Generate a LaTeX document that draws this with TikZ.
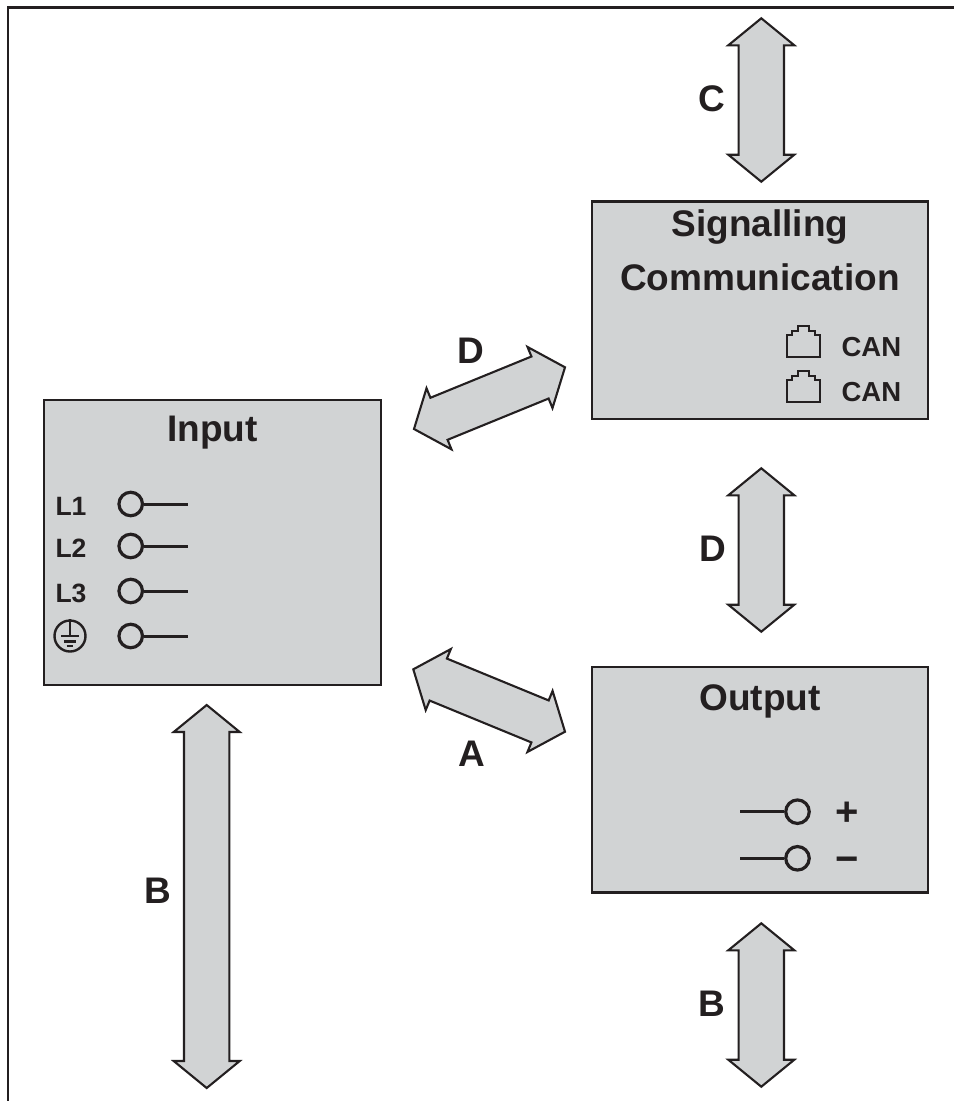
\documentclass[tikz,border=0pt]{standalone}
\usepackage{fontspec}
\setmainfont{Liberation Sans}
\usetikzlibrary{calc}
\definecolor{ink}{RGB}{35,31,32}
\definecolor{panel}{RGB}{209,211,212}

% double block arrow between two named points
\newcommand\twoway[2]{%
  \coordinate (h1) at ($(#1)!27pt!(#2)$);
  \coordinate (h2) at ($(#2)!27pt!(#1)$);
  \draw[twoway] (#1) -- ($(h1)!33pt!90:(#1)$) -- ($(h1)!22.7pt!90:(#1)$)
    -- ($(h2)!22.7pt!-90:(#2)$) -- ($(h2)!33pt!-90:(#2)$) -- (#2)
    -- ($(h2)!33pt!90:(#2)$) -- ($(h2)!22.7pt!90:(#2)$)
    -- ($(h1)!22.7pt!-90:(#1)$) -- ($(h1)!33pt!-90:(#1)$) -- cycle;}

\begin{document}
\begin{tikzpicture}[
    x=1pt,y=-1pt,
    block/.style={
        draw=ink,
        fill=panel,
        line width=2.3pt,
        inner sep=0pt
    },
    title/.style={
        text=ink,
        anchor=base,
        font=\bfseries\fontsize{37}{44}\selectfont
    },
    tag/.style={title},
    pinname/.style={
        text=ink,
        anchor=base west,
        font=\bfseries\fontsize{26.5}{30}\selectfont
    },
    canname/.style={pinname,font=\bfseries\fontsize{27.5}{30}\selectfont},
    sign/.style={text=ink,anchor=base,font=\bfseries\fontsize{40}{44}\selectfont},
    port/.style={
        circle,
        draw=ink,
        line width=3.2pt,
        minimum size=23.5pt,
        inner sep=0pt
    },
    lead/.style={draw=ink,line width=3pt},
    twoway/.style={draw=ink,fill=panel,line width=2.1pt,line join=miter},
    jack/.style={draw=ink,line width=2pt}
    ]
  \useasboundingbox (0,0) rectangle (954,1101);

  % frame
  \draw[ink,line width=2.8pt] (8,1101) -- (8,7.5) -- (954,7.5);

  % blocks
  \node[block,minimum width=337,minimum height=285] (inp) at (212.5,542.5) {};
  \node[block,minimum width=336,minimum height=217.5] (sig) at (760,310.3) {};
  \node[block,minimum width=336,minimum height=225.5] (out) at (760,779.8) {};

  \node[title] (inpt) at (212.5,441.7) {Input};
  \node[title] (sigt1) at (760,236.7) {Signalling};
  \node[title] (sigt2) at (760,290) {Communication};
  \node[title] (outt) at (760,710) {Output};

  % input terminals
  \foreach \n/\y in {1/504,2/546,3/591}{
    \node[pinname] (l\n) at (52,\y+11) {L\n};
    \node[port] (in\n) at (130.7,\y) {};
    \draw[lead] (in\n.east) -- ++(44,0);
  }
  \node[port] (in4) at (130.7,636) {};
  \draw[lead] (in4.east) -- ++(44,0);
  \node[circle,draw=ink,line width=2.4pt,minimum size=31pt,inner sep=0pt] (gnd) at (70,636) {};
  \draw[ink,line width=2.2pt] (gnd.north) -- (gnd.center);
  \draw[ink,line width=2.2pt] ($(gnd.center)+(-9,0)$) -- ++(18,0);
  \draw[ink,line width=2.2pt] ($(gnd.center)+(-6.2,5.4)$) -- ++(12.4,0);
  \draw[ink,line width=2.2pt] ($(gnd.center)+(-3.3,10.3)$) -- ++(6.6,0);

  % CAN sockets
  \foreach \n/\y in {1/357.3,2/402.3}{
    \draw[jack] (786.8,\y) -- ++(0,-22.3) -- ++(5.2,0) -- ++(0,-4.5) -- ++(5.6,0)
      -- ++(0,-4.5) -- ++(11.4,0) -- ++(0,4.5) -- ++(5.6,0) -- ++(0,4.5)
      -- ++(5.2,0) -- ++(0,22.3) -- cycle;
    \node[canname] (can\n) at (838,\y-0.6) {CAN};
  }

  % output terminals
  \node[port] (op) at (797.5,811.7) {};
  \node[port] (om) at (797.5,858.3) {};
  \draw[lead] (op.west) -- ++(-44,0);
  \draw[lead] (om.west) -- ++(-44,0);
  \node[sign] (plus) at (846.7,825.6) {+};
  \node[sign] (minus) at (847.5,872.4) {−};

  % arrows
  \coordinate (c1) at (761.3,18.3);
  \coordinate (c2) at (761.3,181.7);
  \coordinate (dv1) at (761.3,468.3);
  \coordinate (dv2) at (761.3,631.7);
  \coordinate (bo1) at (761.3,923.3);
  \coordinate (bo2) at (761.3,1086.7);
  \coordinate (bi1) at (206.7,705);
  \coordinate (bi2) at (206.7,1088);
  \coordinate (dd1) at (414,429);
  \coordinate (dd2) at (565,367.3);
  \coordinate (aa1) at (413.3,669.3);
  \coordinate (aa2) at (565,731.7);
  \twoway{c1}{c2}
  \twoway{dv1}{dv2}
  \twoway{bo1}{bo2}
  \twoway{bi1}{bi2}
  \twoway{dd1}{dd2}
  \twoway{aa1}{aa2}

  \node[tag] (tc) at (711.5,111.7) {C};
  \node[tag] (tdv) at (712.5,561.7) {D};
  \node[tag] (tbo) at (712,1016.7) {B};
  \node[tag] (tbi) at (158.3,903.3) {B};
  \node[tag] (tdd) at (470.8,363.3) {D};
  \node[tag] (taa) at (471.7,766.7) {A};
\end{tikzpicture}
\end{document}
